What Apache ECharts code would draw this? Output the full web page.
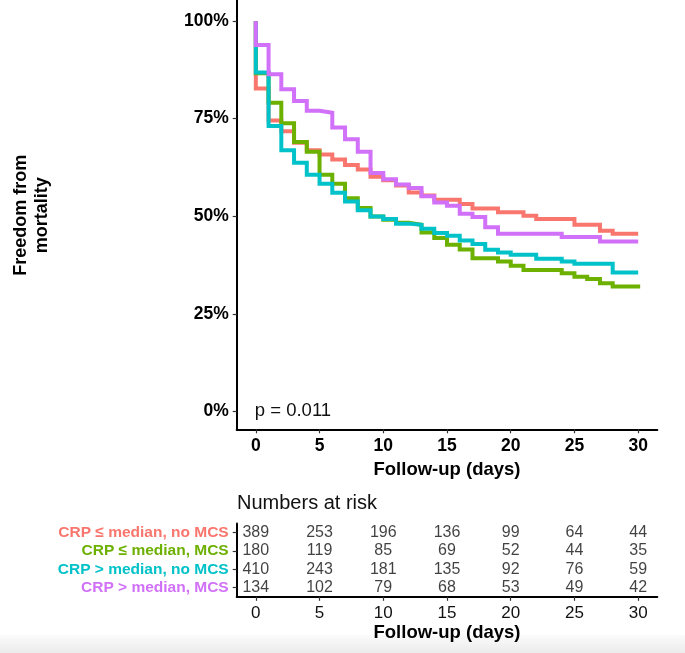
<!DOCTYPE html>
<html>
<head>
<meta charset="utf-8">
<script src="https://cdn.jsdelivr.net/npm/echarts@6/dist/echarts.min.js"></script>
<style>
html,body{margin:0;padding:0;background:#fff;}
#main{width:685px;height:653px;}
</style>
</head>
<body>
<div id="main"></div>
<script>
// ---- data ----
const days = [0,1,2,3,4,5,6,7,8,9,10,11,12,13,14,15,16,17,18,19,20,21,22,23,24,25,26,27,28,29,30];
const groupNames = ['CRP \u2264 median, no MCS','CRP \u2264 median, MCS','CRP > median, no MCS','CRP > median, MCS'];
const groupColors = ['#F8766D','#6CB000','#00C2C8','#D170F8'];
const survLowNoMCS  = [82.7,74.5,71.8,68.8,66.9,65.8,64.5,63.1,62.0,60.1,59.2,57.9,56.1,55.3,54.2,54.2,53.1,52.0,52.0,51.0,51.0,50.1,49.3,49.3,49.3,47.8,47.8,46.3,45.5,45.5,45.5];
const survLowMCS    = [86.6,79.1,73.8,69.0,66.5,60.6,58.3,54.6,52.1,49.9,49.1,48.3,47.8,45.8,44.4,42.7,41.5,39.2,39.2,38.4,37.3,36.2,36.2,36.2,35.4,34.5,33.9,32.8,32.0,32.0,31.5];
const survHighNoMCS = [86.8,73.1,66.9,63.7,60.6,58.3,56.0,53.8,51.5,49.9,49.3,48.1,47.8,46.8,45.7,45.0,43.8,42.9,41.4,40.7,40.1,40.1,39.1,39.1,38.4,37.8,37.8,37.8,35.6,35.6,35.6];
const survHighMCS   = [93.9,86.4,82.5,79.5,77.0,76.5,72.7,69.7,66.5,61.1,59.5,58.1,57.2,55.1,53.5,52.7,50.6,49.8,47.2,45.5,45.5,45.5,45.5,45.5,44.7,44.7,44.7,43.5,43.5,43.5,43.5];
const startValue = 100;
const yTicks = [0,25,50,75,100];
const xTicks = [0,5,10,15,20,25,30];
const riskTimes = [0,5,10,15,20,25,30];
const riskLowNoMCS  = [389,253,196,136,99,64,44];
const riskLowMCS    = [180,119,85,69,52,44,35];
const riskHighNoMCS = [410,243,181,135,92,76,59];
const riskHighMCS   = [134,102,79,68,53,49,42];
const pText = 'p = 0.011';

const survAll = [survLowNoMCS, survLowMCS, survHighNoMCS, survHighMCS];
const riskAll = [riskLowNoMCS, riskLowMCS, riskHighNoMCS, riskHighMCS];

const FONT = '"Liberation Sans", Arial, Helvetica, sans-serif';

const chart = echarts.init(document.getElementById('main'), null, {renderer:'canvas'});

const lineSeries = survAll.map((arr, g) => ({
  type: 'line',
  name: groupNames[g],
  xAxisIndex: 0, yAxisIndex: 0,
  step: 'end',
  showSymbol: false,
  symbol: 'none',
  animation: false,
  silent: true,
  z: 2 + g,
  lineStyle: { color: groupColors[g], width: 4, cap: 'butt', join: 'miter' },
  data: [[0, startValue]].concat(days.map((d, i) => [d, arr[i]]))
}));

const tableSeries = riskAll.map((arr, g) => ({
  type: 'scatter',
  xAxisIndex: 1, yAxisIndex: 1,
  symbolSize: 0,
  animation: false,
  silent: true,
  label: {
    show: true, position: 'inside',
    formatter: p => String(p.value[2]),
    color: '#111', fontSize: 16, fontFamily: FONT
  },
  data: riskTimes.map((t, i) => [t, g, arr[i]])
}));

const richLabels = {};
groupColors.forEach((c, i) => {
  richLabels['g' + i] = { color: c, fontWeight: 'bold', fontSize: 15.5, fontFamily: FONT };
});

chart.setOption({
  backgroundColor: '#fff',
  animation: false,
  grid: [
    { left: 236.7, top: 0, width: 420.6, height: 429.3 },
    { left: 236.7, top: 523.5, width: 420.6, height: 73.3 }
  ],
  xAxis: [
    {
      gridIndex: 0, type: 'value', min: -1.5, max: 31.5,
      axisLine: { show: true, onZero: false, lineStyle: { color: '#000', width: 2 } },
      axisTick: { show: true, length: 4, customValues: xTicks, lineStyle: { color: '#333', width: 1.2 } },
      axisLabel: { customValues: xTicks, color: '#000', fontWeight: 'bold', fontSize: 17.5, fontFamily: FONT, margin: 8 },
      splitLine: { show: false },
      name: 'Follow-up (days)', nameLocation: 'middle', nameGap: 27,
      nameTextStyle: { color: '#000', fontWeight: 'bold', fontSize: 18.5, fontFamily: FONT }
    },
    {
      gridIndex: 1, type: 'value', min: -1.5, max: 31.5,
      axisLine: { show: true, onZero: false, lineStyle: { color: '#000', width: 2 } },
      axisTick: { show: true, length: 4, customValues: xTicks, lineStyle: { color: '#333', width: 1.2 } },
      axisLabel: { customValues: xTicks, color: '#111', fontSize: 17, fontFamily: FONT, margin: 8 },
      splitLine: { show: false },
      name: 'Follow-up (days)', nameLocation: 'middle', nameGap: 27,
      nameTextStyle: { color: '#000', fontWeight: 'bold', fontSize: 18.5, fontFamily: FONT }
    }
  ],
  yAxis: [
    {
      gridIndex: 0, type: 'value', min: -4.6, max: 105.4,
      axisLine: { show: true, onZero: false, lineStyle: { color: '#000', width: 2 } },
      axisTick: { show: true, length: 4, customValues: yTicks, lineStyle: { color: '#333', width: 1.2 } },
      axisLabel: { customValues: yTicks, formatter: v => v + '%', color: '#000', fontWeight: 'bold', fontSize: 17.5, fontFamily: FONT, margin: 8 },
      splitLine: { show: false }
    },
    {
      gridIndex: 1, type: 'category', inverse: true,
      data: groupNames.map((n, i) => i),
      axisLine: { show: true, onZero: false, lineStyle: { color: '#000', width: 2 } },
      axisTick: { show: true, length: 4, alignWithLabel: true, lineStyle: { color: '#333', width: 1.2 } },
      axisLabel: {
        margin: 8,
        formatter: (v, i) => '{g' + i + '|' + groupNames[i] + '}',
        rich: richLabels
      },
      splitLine: { show: false }
    }
  ],
  series: lineSeries.concat(tableSeries)
});

// annotations placed via the axes
const pPos = chart.convertToPixel({ gridIndex: 0 }, [0, 0]);
const yMid = chart.convertToPixel({ gridIndex: 0 }, [0, 50]);
chart.setOption({
  graphic: [
    {
      type: 'rect', silent: true, z: -10,
      shape: { x: 0, y: 635, width: 685, height: 18 },
      style: { fill: new echarts.graphic.LinearGradient(0, 0, 0, 1, [
        { offset: 0, color: '#fbfbfb' }, { offset: 1, color: '#ebebeb' }]) }
    },
    {
      type: 'text', silent: true,
      x: pPos[0] - 1, y: pPos[1],
      style: { text: pText, fill: '#111', font: '18.5px ' + FONT, textAlign: 'left', textVerticalAlign: 'middle' }
    },
    {
      type: 'text', silent: true,
      x: 32, y: yMid[1] - 1, rotation: Math.PI / 2,
      style: { text: 'Freedom from\nmortality', fill: '#000', font: 'bold 18px ' + FONT, lineHeight: 21, textAlign: 'center', textVerticalAlign: 'middle' }
    },
    {
      type: 'text', silent: true,
      x: 237, y: 503,
      style: { text: 'Numbers at risk', fill: '#111', font: '20px ' + FONT, textAlign: 'left', textVerticalAlign: 'middle' }
    }
  ]
});
</script>
</body>
</html>
